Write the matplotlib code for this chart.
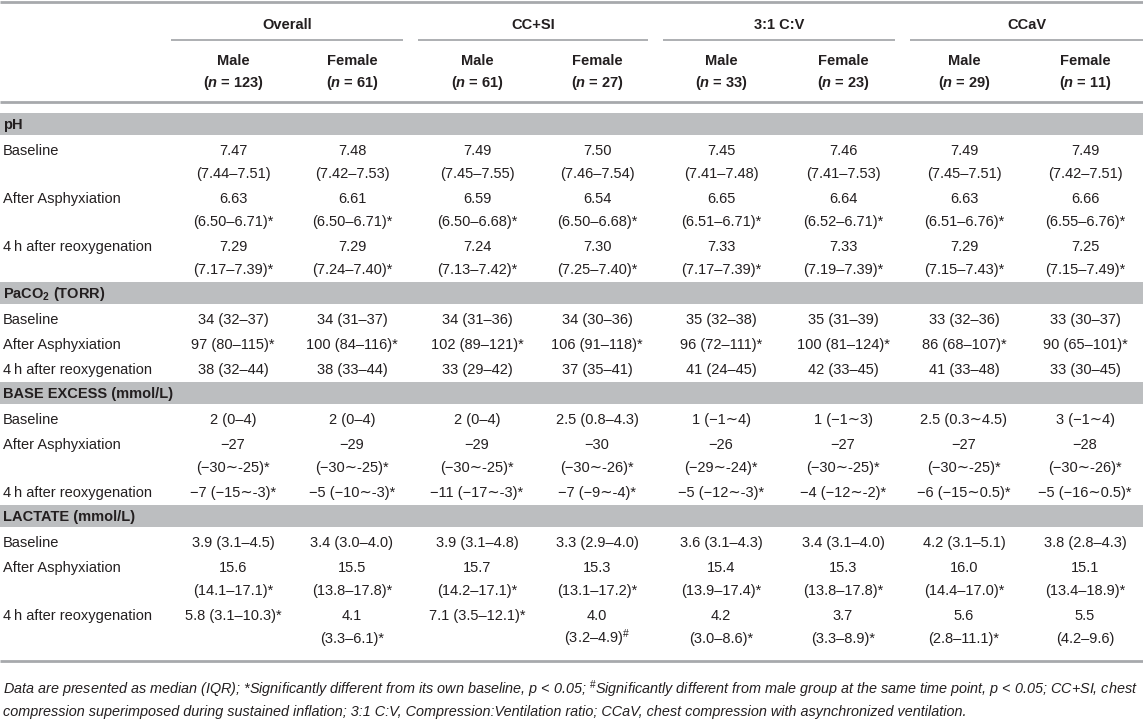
import matplotlib.pyplot as plt

plt.rcParams['font.family'] = ['Liberation Sans', 'DejaVu Sans']
plt.rcParams['mathtext.fontset'] = 'custom'
plt.rcParams['mathtext.rm'] = 'Liberation Sans:bold'
plt.rcParams['mathtext.it'] = 'Liberation Sans:italic:bold'
plt.rcParams['mathtext.bf'] = 'Liberation Sans:bold'
plt.rcParams['mathtext.sf'] = 'Liberation Sans'

# ---- table content ----
groups = ["Overall", "CC+SI", "3:1 C:V", "CCaV"]
sexes = ["Male", "Female"] * 4
n_counts = [123, 61, 61, 27, 33, 23, 29, 11]

sections = ["pH", "PaCO$_2$ (TORR)", "BASE EXCESS (mmol/L)", "LACTATE (mmol/L)"]
timepoints = ["Baseline", "After Asphyxiation", "4\u2009h after reoxygenation"]

ph_values = [
    ["7.47\n(7.44–7.51)", "7.48\n(7.42–7.53)", "7.49\n(7.45–7.55)", "7.50\n(7.46–7.54)",
     "7.45\n(7.41–7.48)", "7.46\n(7.41–7.53)", "7.49\n(7.45–7.51)", "7.49\n(7.42–7.51)"],
    ["6.63\n(6.50–6.71)*", "6.61\n(6.50–6.71)*", "6.59\n(6.50–6.68)*", "6.54\n(6.50–6.68)*",
     "6.65\n(6.51–6.71)*", "6.64\n(6.52–6.71)*", "6.63\n(6.51–6.76)*", "6.66\n(6.55–6.76)*"],
    ["7.29\n(7.17–7.39)*", "7.29\n(7.24–7.40)*", "7.24\n(7.13–7.42)*", "7.30\n(7.25–7.40)*",
     "7.33\n(7.17–7.39)*", "7.33\n(7.19–7.39)*", "7.29\n(7.15–7.43)*", "7.25\n(7.15–7.49)*"],
]
paco2_values = [
    ["34 (32–37)", "34 (31–37)", "34 (31–36)", "34 (30–36)",
     "35 (32–38)", "35 (31–39)", "33 (32–36)", "33 (30–37)"],
    ["97 (80–115)*", "100 (84–116)*", "102 (89–121)*", "106 (91–118)*",
     "96 (72–111)*", "100 (81–124)*", "86 (68–107)*", "90 (65–101)*"],
    ["38 (32–44)", "38 (33–44)", "33 (29–42)", "37 (35–41)",
     "41 (24–45)", "42 (33–45)", "41 (33–48)", "33 (30–45)"],
]
be_values = [
    ["2 (0–4)", "2 (0–4)", "2 (0–4)", "2.5 (0.8–4.3)",
     "1 (−1∼4)", "1 (−1∼3)", "2.5 (0.3∼4.5)", "3 (−1∼4)"],
    ["−27\n(−30∼-25)*", "−29\n(−30∼-25)*", "−29\n(−30∼-25)*", "−30\n(−30∼-26)*",
     "−26\n(−29∼-24)*", "−27\n(−30∼-25)*", "−27\n(−30∼-25)*", "−28\n(−30∼-26)*"],
    ["−7 (−15∼-3)*", "−5 (−10∼-3)*", "−11 (−17∼-3)*", "−7 (−9∼-4)*",
     "−5 (−12∼-3)*", "−4 (−12∼-2)*", "−6 (−15∼0.5)*", "−5 (−16∼0.5)*"],
]
lactate_values = [
    ["3.9 (3.1–4.5)", "3.4 (3.0–4.0)", "3.9 (3.1–4.8)", "3.3 (2.9–4.0)",
     "3.6 (3.1–4.3)", "3.4 (3.1–4.0)", "4.2 (3.1–5.1)", "3.8 (2.8–4.3)"],
    ["15.6\n(14.1–17.1)*", "15.5\n(13.8–17.8)*", "15.7\n(14.2–17.1)*", "15.3\n(13.1–17.2)*",
     "15.4\n(13.9–17.4)*", "15.3\n(13.8–17.8)*", "16.0\n(14.4–17.0)*", "15.1\n(13.4–18.9)*"],
    ["5.8 (3.1–10.3)*", "4.1\n(3.3–6.1)*", "7.1 (3.5–12.1)*", "4.0\n(3.2–4.9)$^{\\mathsf{\\#}}$",
     "4.2\n(3.0–8.6)*", "3.7\n(3.3–8.9)*", "5.6\n(2.8–11.1)*", "5.5\n(4.2–9.6)"],
]
section_values = [ph_values, paco2_values, be_values, lactate_values]

footnote = [
    "Data are presented as median (IQR); *Significantly different from its own baseline, p < 0.05; "
    "$^{\\mathsf{\\#}}$Significantly different from male group at the same time point, p < 0.05; CC+SI, chest",
    "compression superimposed during sustained inflation; 3:1 C:V, Compression:Ventilation ratio; "
    "CCaV, chest compression with asynchronized ventilation.",
]

# ---- layout (pixels) ----
W, H = 1143, 719
col_x = [233, 352, 477, 597, 721, 843, 964, 1085]
group_spans = [(171, 403), (418, 648), (663, 895), (910, 1143)]
TXT = '#231f20'
RULE = '#a7a9ac'
BAND = '#bcbec0'
FS = 10.5
LINE = 23
GAP = 25

fig = plt.figure(figsize=(W / 100, H / 100), dpi=100)
ax = fig.add_axes([0, 0, 1, 1])
ax.set_xlim(0, W)
ax.set_ylim(H, 0)
ax.axis('off')


def put(x, y, s, **kw):
    kw.setdefault('ha', 'center')
    ax.text(x, y + 5, s, va='baseline', fontsize=kw.pop('fs', FS), color=TXT, **kw)


ax.hlines(2, 0, W, color=RULE, lw=2)
for g, (x0, x1) in zip(groups, group_spans):
    put((x0 + x1) / 2, 24, g, weight='bold')
    ax.hlines(40, x0, x1, color=RULE, lw=1.3)
for x, s, n in zip(col_x, sexes, n_counts):
    put(x, 60, s, weight='bold')
    put(x, 82, "($n$ = %d)" % n, weight='bold')
ax.hlines(102, 0, W, color=RULE, lw=2)

y = 124
for title, rows in zip(sections, section_values):
    ax.axhspan(y - 11, y + 11, color=BAND, lw=0)
    put(3, y, title, ha='left', weight='bold')
    y += GAP + 1
    for label, cells in zip(timepoints, rows):
        put(3, y, label, ha='left')
        nlines = 1
        for x, cell in zip(col_x, cells):
            parts = cell.split("\n")
            nlines = max(nlines, len(parts))
            for k, p in enumerate(parts):
                put(x, y + k * LINE, p)
        y += (nlines - 1) * LINE + GAP
    y -= 1
ax.hlines(y - 1, 0, W, color=RULE, lw=2)

put(3, y + 27, footnote[0], ha='left', style='italic', fs=10.35)
put(3, y + 49, footnote[1], ha='left', style='italic', fs=10.35)

fig.savefig("out.png", dpi=100, facecolor='white')
